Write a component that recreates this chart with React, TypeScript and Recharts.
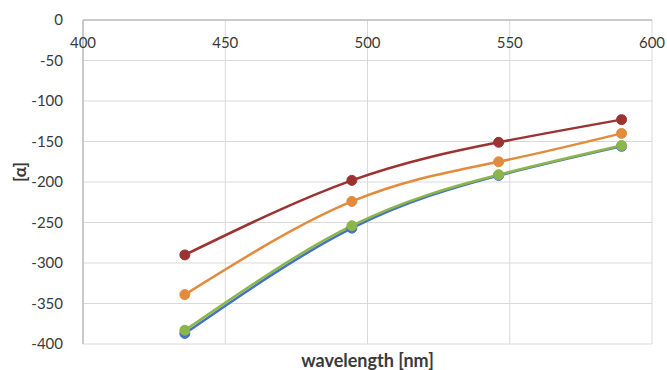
import React from 'react';
import { LineChart, Line, XAxis, YAxis, CartesianGrid } from 'recharts';

const wavelengths = [435.8, 494.5, 546.1, 589.3];
const seriesBlue = [-387, -257, -192, -156];
const seriesGreen = [-383, -254, -191, -155];
const seriesOrange = [-339, -224, -175, -140];
const seriesRed = [-290, -198, -151, -123];

const xTicks = [400, 450, 500, 550, 600];
const yTicks = [0, -50, -100, -150, -200, -250, -300, -350, -400];

const data = wavelengths.map((w, i) => ({
  w,
  blue: seriesBlue[i],
  green: seriesGreen[i],
  orange: seriesOrange[i],
  red: seriesRed[i],
}));

const FONT = 'Lato, "Open Sans", sans-serif';
const TXT = '#3a3a3a';

const series = [
  { key: 'blue', color: '#4472c4' },
  { key: 'green', color: '#8db64a' },
  { key: 'orange', color: '#e38b3d' },
  { key: 'red', color: '#9b3332' },
];

const TopTick = (props: any) => {
  const { x, y, payload } = props;
  return (
    <text
      x={x}
      y={y}
      dy={28}
      textAnchor="middle"
      fill={TXT}
      fontSize={15}
      fontFamily={FONT}
    >
      {payload.value}
    </text>
  );
};

export default function App() {
  return (
    <div style={{ position: 'absolute', left: 0, top: 0, background: '#fff' }}>
      <LineChart
        width={667}
        height={370}
        data={data}
        margin={{ top: 19, right: 15, bottom: 0, left: 0 }}
      >
        <CartesianGrid stroke="#d9d9d9" strokeWidth={1} />
        <XAxis
          dataKey="w"
          type="number"
          domain={[400, 600]}
          ticks={xTicks}
          orientation="top"
          height={1}
          axisLine={{ stroke: '#bfbfbf', strokeWidth: 1.5 }}
          tickLine={false}
          tickSize={0}
          tickMargin={0}
          tick={<TopTick />}
          interval={0}
        />
        <XAxis
          xAxisId="b"
          dataKey="w"
          type="number"
          domain={[400, 600]}
          orientation="bottom"
          height={26}
          tick={false}
          axisLine={false}
          tickLine={false}
          label={{
            value: 'wavelength [nm]',
            position: 'insideBottom',
            offset: 3,
            fill: TXT,
            fontSize: 18,
            fontWeight: 'bold',
            fontFamily: FONT,
          }}
        />
        <YAxis
          type="number"
          domain={[-400, 0]}
          ticks={yTicks}
          width={83}
          axisLine={{ stroke: '#bfbfbf', strokeWidth: 1.5 }}
          tickLine={false}
          tickMargin={14}
          tick={{ fill: TXT, fontSize: 15, fontFamily: FONT }}
          interval={0}
          label={{
            value: '[α]',
            angle: -90,
            position: 'insideLeft',
            offset: 20,
            fill: TXT,
            fontSize: 17,
            fontWeight: 'bold',
            fontFamily: FONT,
          }}
        />
        {series.map((s) => (
          <Line
            key={s.key}
            dataKey={s.key}
            type="natural"
            stroke={s.color}
            strokeWidth={2.5}
            dot={{ r: 5, fill: s.color, stroke: s.color, strokeWidth: 1 }}
            activeDot={false}
            isAnimationActive={false}
          />
        ))}
      </LineChart>
    </div>
  );
}
